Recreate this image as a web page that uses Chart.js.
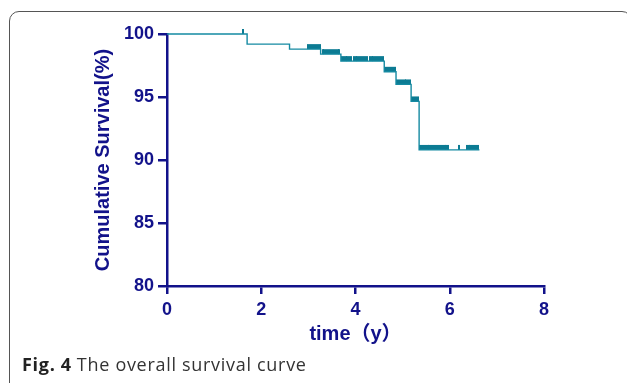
<!DOCTYPE html>
<html>
<head>
<meta charset="utf-8">
<script src="https://cdn.jsdelivr.net/npm/chart.js@4.4.0/dist/chart.umd.min.js"></script>
<style>
  body { margin: 0; background: #fff; }
  #wrap { position: relative; width: 627px; height: 383px; overflow: hidden; }
  #frame { position: absolute; left: 9px; top: 11px; width: 623px; height: 400px;
           border: 1.5px solid #555; border-radius: 10px; box-sizing: border-box; }
  #chart { position: absolute; left: 0; top: 0; }
  #caption { position: absolute; left: 22px; top: 355px; font-family: "Open Sans", sans-serif;
             font-size: 18px; line-height: 18px; letter-spacing: 0.7px; color: #333; white-space: nowrap; }
  #caption b { font-weight: 700; color: #222; margin-right: 5px; }
</style>
</head>
<body>
<div id="wrap">
  <div id="frame"></div>
  <canvas id="chart" width="627" height="383"></canvas>
  <div id="caption"><b>Fig. 4</b>The overall survival curve</div>
</div>
<script>
// Kaplan-Meier steps (time in years, survival %)
const eventTimes = [0, 1.70, 2.60, 3.26, 3.69, 4.61, 4.86, 5.18, 5.35, 6.63];
const survival   = [100, 99.2, 98.8, 98.4, 97.85, 97.0, 96.0, 94.65, 90.8, 90.8];

// censored observations (time in years)
const censorTimes = [
  1.62,
  3.00, 3.04, 3.08, 3.12, 3.16, 3.20, 3.24,
  3.30, 3.34, 3.38, 3.42, 3.46, 3.50, 3.54, 3.58, 3.62, 3.66,
  3.71, 3.75, 3.79, 3.83, 3.87, 3.90, 3.96, 4.00, 4.04, 4.08, 4.12, 4.16, 4.20, 4.24,
  4.30, 4.34, 4.38, 4.42, 4.46, 4.50, 4.54, 4.58,
  4.63, 4.67, 4.71, 4.75, 4.79, 4.83,
  4.88, 4.92, 4.96, 5.00, 5.04, 5.08, 5.12, 5.16,
  5.20, 5.24, 5.28, 5.32,
  5.37, 5.41, 5.45, 5.49, 5.53, 5.57, 5.61, 5.65, 5.69, 5.73, 5.77, 5.81, 5.85, 5.89, 5.93, 5.97,
  6.19,
  6.36, 6.40, 6.44, 6.48, 6.52, 6.56, 6.60
];

const xTicks = [0, 2, 4, 6, 8];
const yTicks = [80, 85, 90, 95, 100];

const navy = '#12128a';
const teal = '#158aa2';
const tickTeal = '#0c7b93';

// survival level at a given time
function levelAt(t) {
  let s = survival[0];
  for (let i = 0; i < eventTimes.length; i++) {
    if (eventTimes[i] <= t) s = survival[i];
  }
  return s;
}

// censor mark: short vertical tick sitting on top of the curve
const mark = document.createElement('canvas');
mark.width = 2;
mark.height = 12;
const mctx = mark.getContext('2d');
mctx.fillStyle = tickTeal;
mctx.fillRect(0, 1, 2, 5);

const ctx = document.getElementById('chart').getContext('2d');
new Chart(ctx, {
  type: 'line',
  data: {
    datasets: [
      {
        data: eventTimes.map((t, i) => ({x: t, y: survival[i]})),
        stepped: 'before',
        borderColor: teal,
        borderWidth: 1.4,
        pointRadius: 0,
        fill: false,
        clip: false
      },
      {
        type: 'scatter',
        data: censorTimes.map(t => ({x: t, y: levelAt(t)})),
        pointStyle: mark,
        showLine: false,
        clip: false
      }
    ]
  },
  options: {
    responsive: false,
    animation: false,
    plugins: { legend: { display: false }, tooltip: { enabled: false } },
    layout: { padding: { left: 0, top: 34, right: 83, bottom: 0 } },
    scales: {
      x: {
        type: 'linear',
        min: 0, max: 8,
        afterBuildTicks: s => { s.ticks = xTicks.map(v => ({value: v})); },
        afterFit: s => { s.height = 97; },
        grid: { drawOnChartArea: false, color: navy, lineWidth: 2.5, tickLength: 8 },
        border: { color: navy, width: 2.5 },
        ticks: { color: navy, padding: 5, font: { family: 'Liberation Sans', weight: 'bold', size: 18 } },
        title: {
          display: true, text: 'time（y）', color: navy,
          font: { family: 'Liberation Sans, "Noto Sans CJK SC"', weight: 'bold', size: 20 },
          padding: { top: 0, bottom: 37 }
        }
      },
      y: {
        min: 80, max: 100,
        afterBuildTicks: s => { s.ticks = yTicks.map(v => ({value: v})); },
        afterFit: s => { s.width = 167; },
        grid: { drawOnChartArea: false, color: navy, lineWidth: 2.5, tickLength: 9 },
        border: { color: navy, width: 2.5 },
        ticks: { color: navy, padding: 4, font: { family: 'Liberation Sans', weight: 'bold', size: 18 } },
        title: {
          display: true, text: 'Cumulative Survival(%)', color: navy,
          font: { family: 'Liberation Sans', weight: 'bold', size: 20 },
          padding: { top: 91, bottom: 0 }
        }
      }
    }
  }
});
</script>
</body>
</html>
